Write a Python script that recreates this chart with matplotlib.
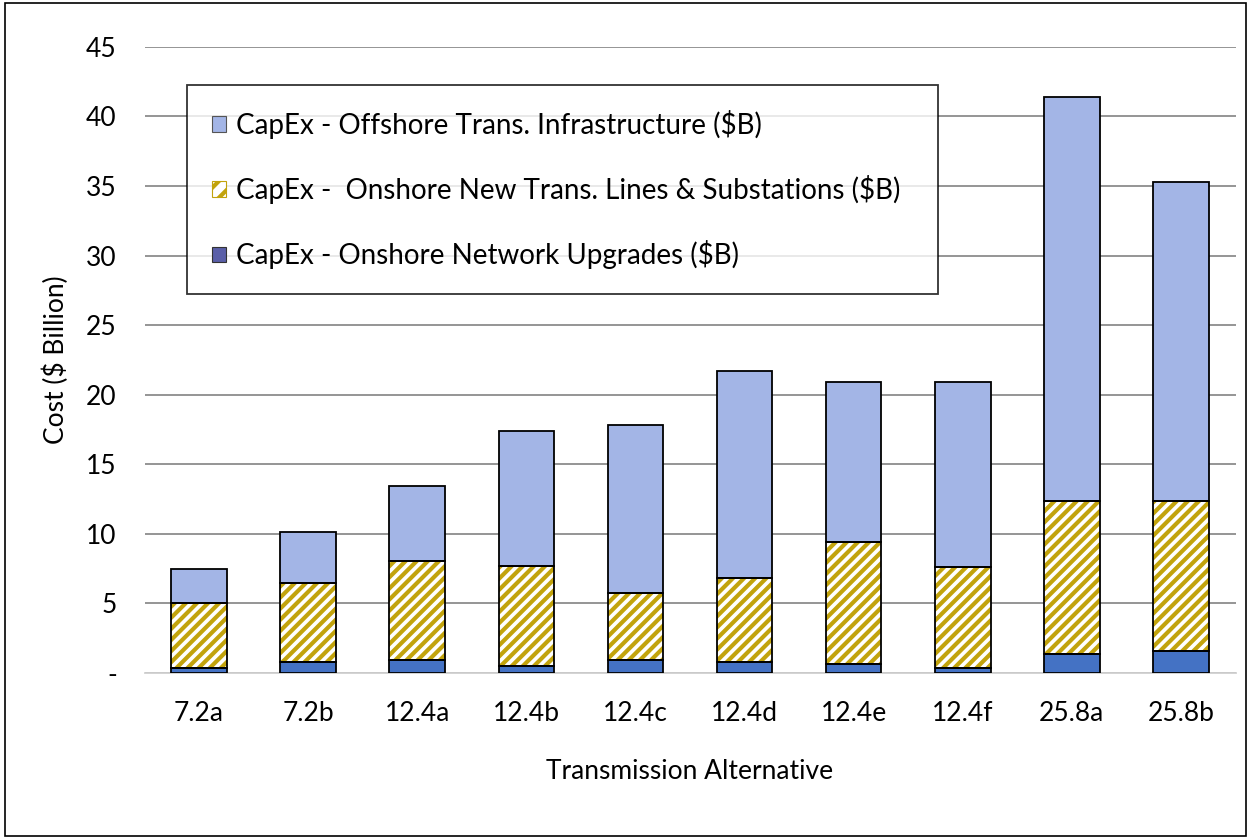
import matplotlib.pyplot as plt
import numpy as np
from matplotlib.patches import Patch, Rectangle

plt.rcParams['font.family'] = ['Lato', 'DejaVu Sans']
plt.rcParams['hatch.linewidth'] = 3.0

# -----------------------------
# data ($B)
alternatives = ['7.2a', '7.2b', '12.4a', '12.4b', '12.4c',
                '12.4d', '12.4e', '12.4f', '25.8a', '25.8b']
network_upgrades = [0.38, 0.75, 0.90, 0.53, 0.90, 0.75, 0.65, 0.38, 1.35, 1.60]
onshore_lines = [4.67, 5.70, 7.16, 7.17, 4.86, 6.05, 8.73, 7.21, 11.02, 10.77]
offshore_infra = [2.42, 3.65, 5.36, 9.67, 12.09, 14.88, 11.52, 13.31, 29.03, 22.93]

labels = ['CapEx - Offshore Trans. Infrastructure ($B)',
          'CapEx -  Onshore New Trans. Lines & Substations ($B)',
          'CapEx - Onshore Network Upgrades ($B)']

blue_light = '#a3b5e6'
gold = '#c2a30c'
blue_dark = '#4472c4'

# -----------------------------
fig = plt.figure(figsize=(12.5, 8.38), dpi=100)
ax = fig.add_axes([0.1156, 0.197, 0.8728, 0.747])

x = np.arange(len(alternatives))
w = 0.51
net = np.array(network_upgrades)
ons = np.array(onshore_lines)
off = np.array(offshore_infra)

# fills first (hatch colour follows edgecolor), outlines after
ax.bar(x, net, w, color=blue_dark, linewidth=0, zorder=3)
ax.bar(x, ons, w, bottom=net, facecolor='white', edgecolor=gold,
       hatch='///', linewidth=0, zorder=3)
ax.bar(x, off, w, bottom=net + ons, facecolor=blue_light, linewidth=0, zorder=3)
for b, h in [(0, net), (net, ons), (net + ons, off)]:
    ax.bar(x, h, w, bottom=b, fill=False, edgecolor='black', linewidth=1.3, zorder=4)

ax.set_xlim(-0.5, len(alternatives) - 0.5)
ax.set_ylim(0, 45)
ax.set_yticks(np.arange(0, 46, 5))
ax.set_yticklabels(['-'] + [str(v) for v in range(5, 46, 5)], fontsize=19)
ax.set_xticks(x)
ax.set_xticklabels(alternatives, fontsize=19)
ax.tick_params(axis='both', length=0)
ax.tick_params(axis='x', pad=20)
ax.tick_params(axis='y', pad=20)
ax.grid(axis='y', color='#8c8c8c', linewidth=1.3, zorder=0)
for side in ['top', 'right', 'left']:
    ax.spines[side].set_visible(False)
ax.spines['bottom'].set_color('#d0d0d0')
ax.spines['bottom'].set_linewidth(1.3)

ax.set_ylabel('Cost ($ Billion)', fontsize=19, labelpad=12)
ax.set_xlabel('Transmission Alternative', fontsize=19, labelpad=24)

# -----------------------------
# legend
handles = [Patch(facecolor=blue_light, edgecolor='#555555', linewidth=0.8),
           Patch(facecolor='white', edgecolor=gold, hatch='//', linewidth=0.8),
           Patch(facecolor='#5a5fa8', edgecolor='#333333', linewidth=0.8)]
leg = ax.legend(handles, labels, loc='upper left', bbox_to_anchor=(0.039, 0.939, 0.688, 0.0),
                mode='expand', fontsize=20, frameon=True, fancybox=False,
                handlelength=0.5, handleheight=0.5, handletextpad=0.35,
                labelspacing=1.3, borderpad=0.9, borderaxespad=0)
leg.get_frame().set_edgecolor('black')
leg.get_frame().set_linewidth(1.3)
leg.set_zorder(5)

# outer frame around the figure
fig.patches.append(Rectangle((0.004, 0.002), 0.993, 0.995, transform=fig.transFigure,
                             fill=False, edgecolor='black', linewidth=1.2))

fig.savefig('out.png', dpi=100)
